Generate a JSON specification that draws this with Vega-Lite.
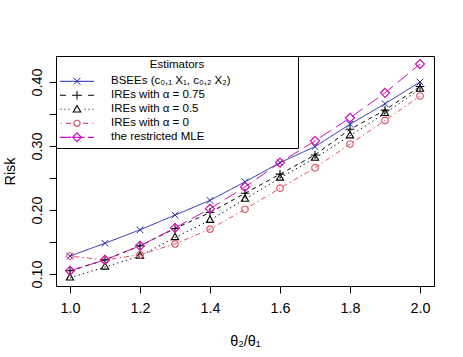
{
  "$schema": "https://vega.github.io/schema/vega-lite/v6.json",
  "width": 378,
  "height": 230,
  "autosize": {"type": "none"},
  "padding": {"left": 56, "top": 56, "right": 29, "bottom": 71},
  "background": "white",
  "config": {
    "font": "Liberation Sans",
    "view": {"stroke": "black", "strokeWidth": 1},
    "axis": {
      "labelFont": "Liberation Sans", "titleFont": "Liberation Sans",
      "labelFontSize": 14.4, "titleFontSize": 14.4, "titleFontWeight": "normal",
      "labelColor": "black", "titleColor": "black", "tickColor": "black",
      "tickSize": 7, "grid": false, "domain": false
    }
  },
  "data": {
    "values": [
      {"ratio": 1.0, "risk": 0.128, "est": "BSEEs (c₀,₁ X₁, c₀,₂ X₂)"},
      {"ratio": 1.1, "risk": 0.148, "est": "BSEEs (c₀,₁ X₁, c₀,₂ X₂)"},
      {"ratio": 1.2, "risk": 0.169, "est": "BSEEs (c₀,₁ X₁, c₀,₂ X₂)"},
      {"ratio": 1.3, "risk": 0.192, "est": "BSEEs (c₀,₁ X₁, c₀,₂ X₂)"},
      {"ratio": 1.4, "risk": 0.215, "est": "BSEEs (c₀,₁ X₁, c₀,₂ X₂)"},
      {"ratio": 1.5, "risk": 0.244, "est": "BSEEs (c₀,₁ X₁, c₀,₂ X₂)"},
      {"ratio": 1.6, "risk": 0.274, "est": "BSEEs (c₀,₁ X₁, c₀,₂ X₂)"},
      {"ratio": 1.7, "risk": 0.299, "est": "BSEEs (c₀,₁ X₁, c₀,₂ X₂)"},
      {"ratio": 1.8, "risk": 0.334, "est": "BSEEs (c₀,₁ X₁, c₀,₂ X₂)"},
      {"ratio": 1.9, "risk": 0.366, "est": "BSEEs (c₀,₁ X₁, c₀,₂ X₂)"},
      {"ratio": 2.0, "risk": 0.400, "est": "BSEEs (c₀,₁ X₁, c₀,₂ X₂)"},
      {"ratio": 1.0, "risk": 0.105, "est": "IREs with α = 0.75"},
      {"ratio": 1.1, "risk": 0.122, "est": "IREs with α = 0.75"},
      {"ratio": 1.2, "risk": 0.144, "est": "IREs with α = 0.75"},
      {"ratio": 1.3, "risk": 0.171, "est": "IREs with α = 0.75"},
      {"ratio": 1.4, "risk": 0.196, "est": "IREs with α = 0.75"},
      {"ratio": 1.5, "risk": 0.226, "est": "IREs with α = 0.75"},
      {"ratio": 1.6, "risk": 0.256, "est": "IREs with α = 0.75"},
      {"ratio": 1.7, "risk": 0.286, "est": "IREs with α = 0.75"},
      {"ratio": 1.8, "risk": 0.326, "est": "IREs with α = 0.75"},
      {"ratio": 1.9, "risk": 0.356, "est": "IREs with α = 0.75"},
      {"ratio": 2.0, "risk": 0.393, "est": "IREs with α = 0.75"},
      {"ratio": 1.0, "risk": 0.094, "est": "IREs with α = 0.5"},
      {"ratio": 1.1, "risk": 0.111, "est": "IREs with α = 0.5"},
      {"ratio": 1.2, "risk": 0.128, "est": "IREs with α = 0.5"},
      {"ratio": 1.3, "risk": 0.157, "est": "IREs with α = 0.5"},
      {"ratio": 1.4, "risk": 0.184, "est": "IREs with α = 0.5"},
      {"ratio": 1.5, "risk": 0.217, "est": "IREs with α = 0.5"},
      {"ratio": 1.6, "risk": 0.250, "est": "IREs with α = 0.5"},
      {"ratio": 1.7, "risk": 0.281, "est": "IREs with α = 0.5"},
      {"ratio": 1.8, "risk": 0.316, "est": "IREs with α = 0.5"},
      {"ratio": 1.9, "risk": 0.351, "est": "IREs with α = 0.5"},
      {"ratio": 2.0, "risk": 0.389, "est": "IREs with α = 0.5"},
      {"ratio": 1.0, "risk": 0.128, "est": "IREs with α = 0"},
      {"ratio": 1.1, "risk": 0.122, "est": "IREs with α = 0"},
      {"ratio": 1.2, "risk": 0.130, "est": "IREs with α = 0"},
      {"ratio": 1.3, "risk": 0.147, "est": "IREs with α = 0"},
      {"ratio": 1.4, "risk": 0.170, "est": "IREs with α = 0"},
      {"ratio": 1.5, "risk": 0.201, "est": "IREs with α = 0"},
      {"ratio": 1.6, "risk": 0.234, "est": "IREs with α = 0"},
      {"ratio": 1.7, "risk": 0.266, "est": "IREs with α = 0"},
      {"ratio": 1.8, "risk": 0.303, "est": "IREs with α = 0"},
      {"ratio": 1.9, "risk": 0.340, "est": "IREs with α = 0"},
      {"ratio": 2.0, "risk": 0.378, "est": "IREs with α = 0"},
      {"ratio": 1.0, "risk": 0.105, "est": "the restricted MLE"},
      {"ratio": 1.1, "risk": 0.122, "est": "the restricted MLE"},
      {"ratio": 1.2, "risk": 0.144, "est": "the restricted MLE"},
      {"ratio": 1.3, "risk": 0.172, "est": "the restricted MLE"},
      {"ratio": 1.4, "risk": 0.202, "est": "the restricted MLE"},
      {"ratio": 1.5, "risk": 0.236, "est": "the restricted MLE"},
      {"ratio": 1.6, "risk": 0.274, "est": "the restricted MLE"},
      {"ratio": 1.7, "risk": 0.308, "est": "the restricted MLE"},
      {"ratio": 1.8, "risk": 0.344, "est": "the restricted MLE"},
      {"ratio": 1.9, "risk": 0.383, "est": "the restricted MLE"},
      {"ratio": 2.0, "risk": 0.428, "est": "the restricted MLE"}
    ]
  },
  "encoding": {
    "x": {
      "field": "ratio", "type": "quantitative",
      "scale": {"domain": [0.96, 2.04], "nice": false, "zero": false},
      "axis": {"values": [1.0, 1.2, 1.4, 1.6, 1.8, 2.0], "format": ".1f", "labelPadding": 8, "title": "θ₂/θ₁", "titlePadding": 20, "labelFlush": false}
    },
    "y": {
      "field": "risk", "type": "quantitative",
      "scale": {"domain": [0.0812, 0.4406], "nice": false, "zero": false},
      "axis": {
        "values": [0.10, 0.15, 0.20, 0.25, 0.30, 0.35, 0.40],
        "labelExpr": "abs(datum.value * 10 - round(datum.value * 10)) < 0.01 ? format(datum.value, '.2f') : ''",
        "labelAngle": 270, "labelAlign": "center", "labelBaseline": "bottom",
        "labelPadding": 5, "title": "Risk", "titlePadding": 12, "labelFlush": false
      }
    }
  },
  "layer": [
    {
      "mark": {"type": "line"},
      "encoding": {
        "color": {
          "field": "est", "type": "nominal", "legend": null,
          "scale": {
            "domain": ["BSEEs (c₀,₁ X₁, c₀,₂ X₂)", "IREs with α = 0.75", "IREs with α = 0.5", "IREs with α = 0", "the restricted MLE"],
            "range": ["#2525B0", "#000000", "#000000", "#DF536B", "#CD0BBC"]
          }
        },
        "strokeDash": {
          "field": "est", "type": "nominal", "legend": null,
          "scale": {
            "domain": ["BSEEs (c₀,₁ X₁, c₀,₂ X₂)", "IREs with α = 0.75", "IREs with α = 0.5", "IREs with α = 0", "the restricted MLE"],
            "range": [[1, 0], [4, 4], [1.3, 3.2], [1.5, 3, 5, 3], [13, 6]]
          }
        },
        "strokeWidth": {
          "field": "est", "type": "nominal", "legend": null,
          "scale": {
            "domain": ["BSEEs (c₀,₁ X₁, c₀,₂ X₂)", "IREs with α = 0.75", "IREs with α = 0.5", "IREs with α = 0", "the restricted MLE"],
            "range": [1, 1, 1.3, 1.2, 2]
          }
        }
      }
    },
    {
      "mark": {"type": "point", "filled": false, "size": 44, "opacity": 1},
      "encoding": {
        "color": {
          "field": "est", "type": "nominal",
          "scale": {
            "domain": ["BSEEs (c₀,₁ X₁, c₀,₂ X₂)", "IREs with α = 0.75", "IREs with α = 0.5", "IREs with α = 0", "the restricted MLE"],
            "range": ["#2525B0", "#000000", "#000000", "#DF536B", "#CD0BBC"]
          },
          "legend": {
            "orient": "none", "legendX": 0, "legendY": 0,
            "title": "Estimators", "titleAnchor": "middle", "titleFontWeight": "normal",
            "titleFontSize": 11.5, "titleFont": "Liberation Sans", "titleColor": "black", "titlePadding": 4,
            "labelFontSize": 11.5, "labelFont": "Liberation Sans", "labelColor": "black", "labelOffset": 16,
            "labelExpr": "datum.label + '\u00a0\u00a0\u00a0\u00a0\u00a0\u00a0\u00a0\u00a0\u00a0\u00a0\u00a0\u00a0\u00a0\u00a0\u00a0\u00a0\u00a0\u00a0\u00a0\u00a0\u200b'",
            "labelLimit": 400,
            "strokeColor": "black", "fillColor": "white", "padding": 3,
            "symbolSize": 1156, "symbolStrokeWidth": 1.3, "clipHeight": 13.6, "rowPadding": 0,
            "symbolOpacity": 1,
            "symbolType": {"expr": "(datum.value === 'BSEEs (c₀,₁ X₁, c₀,₂ X₂)' || datum.index === 0) ? 'M-1,0H1M-0.2,-0.2L0.2,0.2M-0.2,0.2L0.2,-0.2' : (datum.value === 'IREs with α = 0.75' || datum.index === 1) ? 'M-1,0H-0.65M-0.29,0H0.29M0.65,0H1M0,-0.25V0.25' : (datum.value === 'IREs with α = 0.5' || datum.index === 2) ? 'M-0.97,0H-0.91M-0.74,0H-0.68M-0.51,0H-0.45M0.45,0H0.51M0.68,0H0.74M0.91,0H0.97M0,-0.22L0.22,0.16L-0.22,0.16Z' : (datum.value === 'IREs with α = 0' || datum.index === 3) ? 'M-0.97,0H-0.91M-0.65,0H-0.35M0.35,0H0.65M0.91,0H0.97M0.18,0A0.18,0.18,0,1,1,-0.18,0A0.18,0.18,0,1,1,0.18,0' : 'M-1,0H-0.35M-0.2,0H0.45M0.65,0H1M0,-0.26L0.26,0L0,0.26L-0.26,0Z'"},
            "encode": {
              "symbols": {
                "update": {
                  "strokeDash": {"value": [1, 0]},
                  "fill": {"value": "transparent"},
                  "opacity": {"value": 1}
                }
              }
            }
          }
        },
        "shape": {
          "field": "est", "type": "nominal", "legend": null,
          "scale": {
            "domain": ["BSEEs (c₀,₁ X₁, c₀,₂ X₂)", "IREs with α = 0.75", "IREs with α = 0.5", "IREs with α = 0", "the restricted MLE"],
            "range": ["M-1,-1L1,1M-1,1L1,-1", "M-1.3,0H1.3M0,-1.3V1.3", "M0,-1.25L1.1,0.65L-1.1,0.65Z", "M1,0A1,1,0,1,1,-1,0A1,1,0,1,1,1,0", "M0,-1.35L1.35,0L0,1.35L-1.35,0Z"]
          }
        },
        "strokeWidth": {
          "field": "est", "type": "nominal", "legend": null,
          "scale": {
            "domain": ["BSEEs (c₀,₁ X₁, c₀,₂ X₂)", "IREs with α = 0.75", "IREs with α = 0.5", "IREs with α = 0", "the restricted MLE"],
            "range": [1, 1.2, 2, 1.5, 2]
          }
        }
      }
    }
  ],
  "resolve": {"scale": {"strokeWidth": "independent", "color": "independent"}, "legend": {"color": "independent"}}
}
